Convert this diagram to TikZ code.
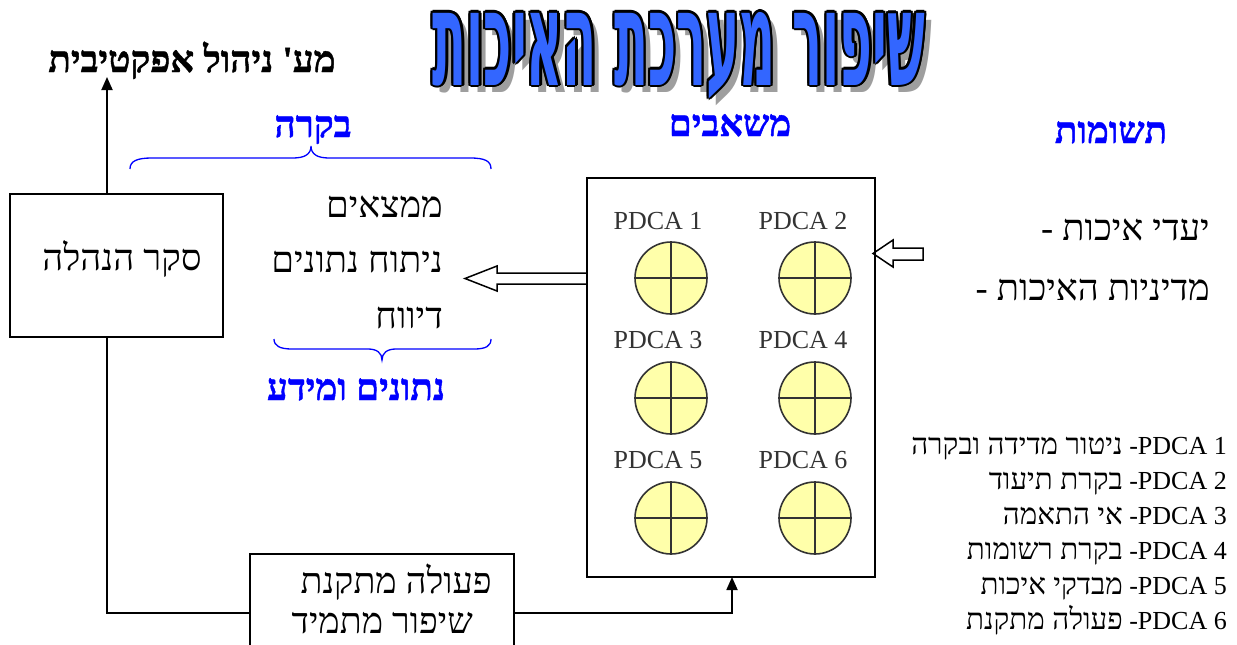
\documentclass[tikz,border=0pt]{standalone}
\usepackage{fontspec}
\usepackage{graphicx}
\setmainfont{Liberation Serif}
\newfontfamily\heb[Script=Hebrew]{Liberation Serif}
\newfontfamily\hebB[Script=Hebrew,FakeBold=1.2]{Liberation Serif Bold}
\newfontfamily\ttlfont[Script=Hebrew]{DejaVu Sans}
\TeXXeTstate=1
\usetikzlibrary{arrows.meta,calc}
\newcommand\HE[1]{\beginR #1\endR}
\newcommand\TitleBox{\resizebox{492pt}{73pt}{\ttlfont\bfseries\HE{שיפור מערכת האיכות}}}
\definecolor{ttlblue}{RGB}{51,102,255}
\definecolor{hblue}{RGB}{0,0,255}
\definecolor{pyellow}{RGB}{255,255,170}
\definecolor{pgray}{RGB}{51,51,51}
\tikzset{
  ln/.style={line width=1.8pt, draw=black},
  boxn/.style={ln, rectangle, inner sep=0pt},
  htxt/.style={inner sep=0pt, font=\heb\fontsize{#1}{#1}\selectfont},
  hbold/.style={inner sep=0pt, text=hblue, font=\hebB\fontsize{#1}{#1}\selectfont},
  plabel/.style={inner sep=0pt, anchor=base, text=pgray, font=\fontsize{26}{26}\selectfont},
  pcirc/.style={circle, draw=pgray, line width=1.6pt, fill=pyellow, minimum size=72pt, inner sep=0pt},
  legend/.style={inner sep=0pt, anchor=base east, font=\fontsize{26}{26}\selectfont},
  tip/.style={-{Triangle[length=13pt,width=11pt]}},
  ttlnode/.style={inner sep=0pt, anchor=base}
}
\newcommand\LH[1]{{\heb\fontsize{29.5}{29.5}\selectfont\HE{#1}}}
\begin{document}
\begin{tikzpicture}[x=1pt,y=-1pt]
\useasboundingbox (0,0) rectangle (1237,645);
% title
\node[ttlnode, text=black!38] (ttlshadow) at (686,92) {\TitleBox};
\foreach \a in {0,30,...,359} {
  \node[ttlnode, text=black] at ($(679,85)+(\a:2.3)$) {\TitleBox};
}
\node[ttlnode, text=ttlblue] (ttl) at (679,85) {\TitleBox};
% top-left goal
\node[hbold=37, text=black, anchor=base] (goal) at (192,72) {\HE{מע' ניהול אפקטיבית}};
\coordinate (uptip) at (107,77);
% management review box
\node[boxn, minimum width=213pt, minimum height=143pt] (mgmt) at (116.5,265.5) {};
\node[htxt=36.5, anchor=base] (mgmtt) at (122,270) {\HE{סקר הנהלה}};
% headings
\node[hbold=37, anchor=base] (audit) at (313,137) {\HE{בקרה}};
\node[hbold=37, anchor=base] (data) at (356,400) {\HE{נתונים ומידע}};
\node[hbold=37, anchor=base] (res) at (730,136) {\HE{משאבים}};
\node[hbold=37, anchor=base] (inp) at (1111,143) {\HE{תשומות}};
% list
\node[htxt=36.5, anchor=base east] (l1) at (443,217) {\HE{ממצאים}};
\node[htxt=36.5, anchor=base east] (l2) at (443,272) {\HE{ניתוח נתונים}};
\node[htxt=36.5, anchor=base east] (l3) at (443,328) {\HE{דיווח}};
% braces
\draw[hblue, line width=1.3pt] (130,169) .. controls (130,161) and (137,158) .. (152,158) -- (293,158) .. controls (305,158) and (311,154) .. (311,146) .. controls (311,154) and (317,158) .. (329,158) -- (470,158) .. controls (485,158) and (491,161) .. (491,169);
\draw[hblue, line width=1.3pt] (274,339) .. controls (274,346) and (280,349) .. (292,349) -- (368,349) .. controls (377,349) and (382,353) .. (382,360) .. controls (382,353) and (387,349) .. (396,349) -- (474,349) .. controls (486,349) and (491,346) .. (491,339);
% PDCA box
\node[boxn, minimum width=288pt, minimum height=399pt] (pdca) at (731,377.5) {};
\foreach \i/\x/\y in {1/671/278, 2/815/278, 3/671/398, 4/815/398, 5/671/518, 6/815/518} {
  \node[pcirc] (c\i) at (\x,\y) {};
  \draw[pgray, line width=1.6pt] (c\i.north) -- (c\i.south) (c\i.west) -- (c\i.east);
}
\node[plabel] (p1) at (658,229) {PDCA 1};
\node[plabel] (p2) at (803,229) {PDCA 2};
\node[plabel] (p3) at (658,348) {PDCA 3};
\node[plabel] (p4) at (803,348) {PDCA 4};
\node[plabel] (p5) at (658,468) {PDCA 5};
\node[plabel] (p6) at (803,468) {PDCA 6};
% hollow arrows
\draw[line width=1.5pt] (pdca.west |- 0,273) -- (497,273) -- (497,266) -- (465,278.5) -- (497,291) -- (497,284) -- (pdca.west |- 0,284);
\draw[line width=1.5pt] (923,248) -- (893,248) -- (893,240) -- (873,253.5) -- (893,267) -- (893,260) -- (923,260) -- cycle;
% inputs
\node[htxt=36.5, anchor=base east] (in1) at (1210,240) {\HE{יעדי איכות -}};
\node[htxt=36.5, anchor=base east] (in2) at (1210,300) {\HE{מדיניות האיכות -}};
% corrective action box
\node[boxn, minimum width=264pt, minimum height=120pt] (fix) at (382,614) {};
\node[htxt=36, anchor=base east] (fix1) at (492,593) {\HE{פעולה מתקנת}};
\node[htxt=36, anchor=base east] (fix2) at (473,633) {\HE{שיפור מתמיד}};
\coordinate (fixin) at (250,613);
\coordinate (fixout) at (514,613);
\coordinate (upin) at (732,577);
% connectors
\draw[ln, tip] (mgmt.north -| uptip) -- (uptip);
\draw[ln] (mgmt.south -| uptip) |- (fixin);
\draw[ln, tip] (fixout) -| (upin);
% legend
\node[legend] (g1) at (1227,454) {\LH{ניטור מדידה ובקרה} -PDCA 1};
\node[legend] (g2) at (1227,489) {\LH{בקרת תיעוד} -PDCA 2};
\node[legend] (g3) at (1227,524) {\LH{אי התאמה} -PDCA 3};
\node[legend] (g4) at (1227,559) {\LH{בקרת רשומות} -PDCA 4};
\node[legend] (g5) at (1227,594) {\LH{מבדקי איכות} -PDCA 5};
\node[legend] (g6) at (1227,629) {\LH{פעולה מתקנת} -PDCA 6};
\end{tikzpicture}
\end{document}
